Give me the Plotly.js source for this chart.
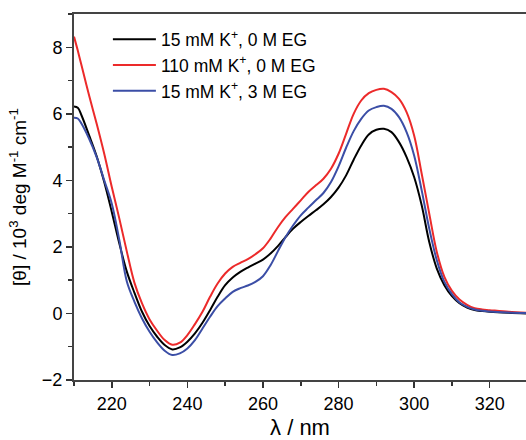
<!DOCTYPE html>
<html>
<head>
<meta charset="utf-8">
<script src="https://cdn.plot.ly/plotly-3.0.1.min.js"></script>
<style>html,body{margin:0;padding:0;background:#fff}#chart{width:526px;height:440px}</style>
</head>
<body>
<div id="chart"></div>
<script>
const wavelength = [210,211,212,214,216,218,220,222,224,226,228,230,232,234,236,238,240,242,244,246,248,250,252,254,256,258,260,262,264,266,268,270,272,274,276,278,280,282,284,286,288,290,292,294,296,298,300,302,304,306,308,310,312,314,316,318,320,325,330];

const k15_eg0 = [6.22,6.18,5.95,5.35,4.72,3.95,3.05,2.1,1.25,0.62,0.05,-0.38,-0.7,-0.95,-1.08,-1.02,-0.85,-0.6,-0.28,0.1,0.5,0.85,1.08,1.25,1.38,1.5,1.62,1.8,2.03,2.3,2.55,2.75,2.93,3.1,3.28,3.5,3.78,4.15,4.62,5.05,5.38,5.52,5.55,5.45,5.15,4.7,4.1,3.25,2.15,1.35,0.85,0.52,0.31,0.18,0.1,0.07,0.05,0.02,0.0];

const k110_eg0 = [8.32,7.9,7.45,6.55,5.7,4.8,3.8,2.85,1.85,0.92,0.3,-0.18,-0.52,-0.8,-0.94,-0.88,-0.65,-0.32,0.05,0.5,0.9,1.2,1.4,1.52,1.63,1.78,1.96,2.25,2.6,2.9,3.15,3.4,3.65,3.85,4.05,4.35,4.8,5.4,6.0,6.4,6.62,6.72,6.75,6.65,6.45,6.05,5.35,4.2,3.0,1.85,1.1,0.68,0.42,0.26,0.16,0.12,0.1,0.05,0.02];

const k15_eg3 = [5.88,5.86,5.7,5.25,4.7,4.0,3.3,2.2,0.95,0.35,-0.15,-0.55,-0.87,-1.12,-1.25,-1.2,-1.05,-0.8,-0.45,-0.1,0.22,0.45,0.65,0.76,0.84,0.95,1.12,1.45,1.88,2.3,2.65,2.95,3.18,3.4,3.62,3.95,4.42,4.98,5.48,5.85,6.1,6.2,6.24,6.15,5.9,5.45,4.75,3.7,2.55,1.6,0.95,0.58,0.33,0.2,0.12,0.08,0.06,0.03,0.01];

const seriesNames = ['15 mM K<sup>+</sup>, 0 M EG','110 mM K<sup>+</sup>, 0 M EG','15 mM K<sup>+</sup>, 3 M EG'];
const seriesColors = ['#000000','#ec2a2a','#3b4ea6'];
const seriesValues = [k15_eg0, k110_eg0, k15_eg3];

const traces = seriesValues.map((v,i)=>({
  x: wavelength, y: v, type:'scatter', mode:'lines', name: seriesNames[i],
  line:{color: seriesColors[i], width:2, shape:'spline', smoothing:1}
}));

const font = {family:'Liberation Sans, Arial, sans-serif', color:'#000'};
const layout = {
  width:526, height:440,
  margin:{l:74, r:0, t:14, b:60},
  paper_bgcolor:'#fff', plot_bgcolor:'#fff',
  showlegend:true,
  legend:{x:0.075, y:0.98, xanchor:'left', yanchor:'top', bgcolor:'rgba(0,0,0,0)',
    font:{family:font.family, size:17.5, color:'#000'}, itemwidth:43, tracegroupgap:0},
  xaxis:{range:[210,329.6], tick0:200, dtick:20, ticks:'outside', ticklen:6, tickwidth:1.5, tickcolor:'#333',
    showline:true, linewidth:2, linecolor:'#444', mirror:true, showgrid:false, zeroline:false,
    tickfont:{family:font.family, size:18, color:'#000'},
    minor:{dtick:10, ticks:'outside', ticklen:4, tickwidth:1.5, tickcolor:'#333', showgrid:false},
    title:{text:'λ / nm', font:{family:font.family, size:22, color:'#000'}, standoff:10}},
  yaxis:{range:[-2,9], tick0:0, dtick:2, ticks:'outside', ticklen:6, tickwidth:1.5, tickcolor:'#333',
    showline:true, linewidth:2, linecolor:'#444', mirror:false, showgrid:false, zeroline:false,
    tickfont:{family:font.family, size:18, color:'#000'},
    minor:{dtick:1, ticks:'outside', ticklen:4, tickwidth:1.5, tickcolor:'#333', showgrid:false},
    title:{text:'[θ] / 10<sup>3</sup> deg M<sup>-1</sup> cm<sup>-1</sup>', font:{family:font.family, size:19, color:'#000'}, standoff:10}}
};
Plotly.newPlot('chart', traces, layout, {displayModeBar:false, staticPlot:true});
</script>
</body>
</html>
